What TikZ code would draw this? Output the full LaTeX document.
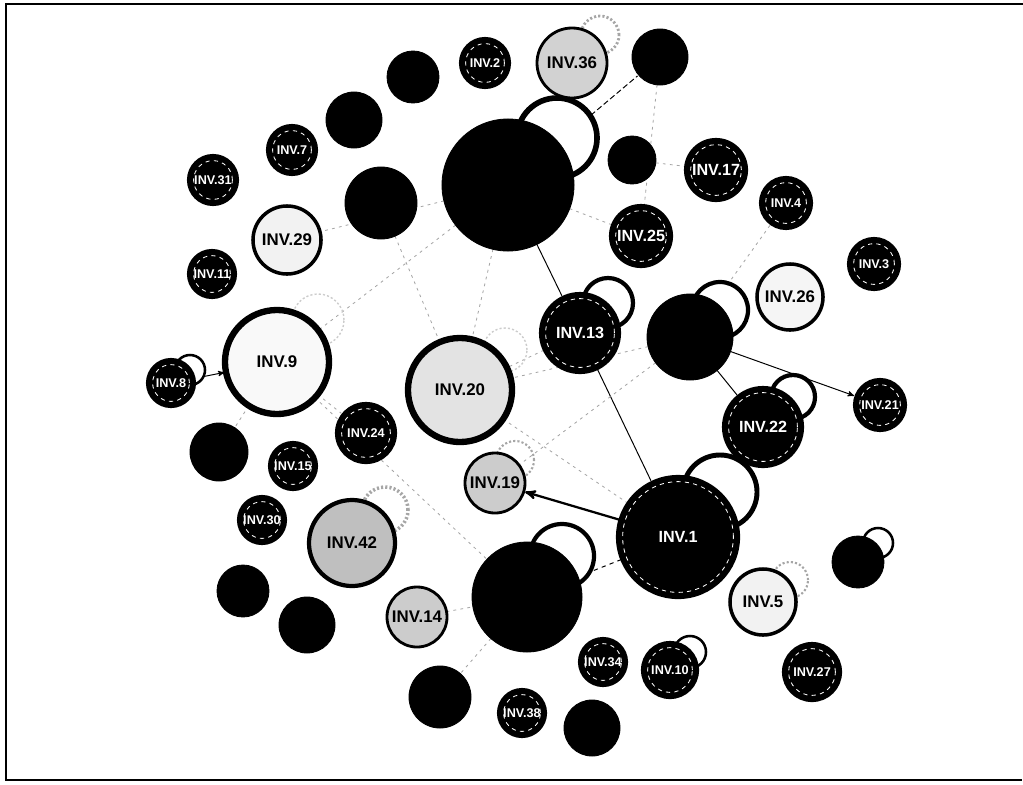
\documentclass[tikz,border=0pt]{standalone}
\usepackage{fontspec}
\setsansfont{Liberation Sans}
\usetikzlibrary{arrows,calc}
\pgfdeclarelayer{background}
\pgfsetlayers{background,main}

\begin{document}
\begin{tikzpicture}[x=0.025cm,y=-0.025cm,>=stealth',shorten >=1pt,
                    rad/.style={minimum size=#1*0.05cm},
                    semithick]
  \tikzstyle{every node}=[circle,inner sep=0pt,outer sep=0pt]
  \tikzstyle{blob}=[fill=black,draw=black]
  \tikzstyle{inv}=[fill=black,draw=black,line width=1.5pt,text=white,
                   font=\sffamily\bfseries\fontsize{9}{9}\selectfont,
                   path picture={\draw[white,dashed,line width=0.6pt]
                     let \p1=(path picture bounding box.east),
                         \p2=(path picture bounding box.center)
                     in (\p2) circle ({\x1-\x2-4pt});}]
  \tikzstyle{biginv}=[inv,font=\sffamily\bfseries\fontsize{11.5}{11.5}\selectfont]
  \tikzstyle{pale}=[draw=black,line width=2.5pt,text=black,
                    font=\sffamily\bfseries\fontsize{12}{12}\selectfont]
  \tikzstyle{loopring}=[draw=black,line width=3pt,fill=white]
  \tikzstyle{faintring}=[draw=gray!70,dash pattern=on 1.5pt off 1.5pt,line width=1pt]
  \tikzstyle{link}=[gray!70,dash pattern=on 2pt off 3pt,line width=0.6pt]
  \tikzstyle{tie}=[black,line width=0.7pt]

  \useasboundingbox (0,0) rectangle (1023,784);
  \draw[line width=1pt] (1023,4) -- (6,4) -- (6,780) -- (1023,780);

  % self loops
  \node[loopring,rad=40,line width=4pt] (lA)  at (557,138) {};
  \node[faintring,rad=19,line width=2pt] (l36) at (600,35) {};
  \node[loopring,rad=25] (l13) at (608,303) {};
  \node[loopring,rad=28] (l6)  at (720,310) {};
  \node[loopring,rad=22] (l22) at (793,397) {};
  \node[loopring,rad=37,line width=3.5pt] (l1)  at (720,492) {};
  \node[loopring,rad=32] (lB)  at (562,556) {};
  \node[loopring,rad=15,line width=1.8pt] (l7b) at (878,543) {};
  \node[faintring,rad=18,line width=1.5pt] (l5) at (790,580) {};
  \node[loopring,rad=16,line width=1.8pt] (l10) at (690,652) {};
  \node[faintring,rad=23,line width=2.5pt] (l42) at (385,510) {};
  \node[faintring,rad=19,line width=1.5pt] (l19) at (515,460) {};
  \node[faintring,rad=22,draw=gray!40] (l20) at (505,350) {};
  \node[faintring,rad=26,draw=gray!40] (l9)  at (318,320) {};
  \node[loopring,rad=15,line width=1.8pt] (l8) at (190,370) {};

  % hubs and plain discs
  \node[blob,rad=66] (hubA) at (508,185) {};
  \node[blob,rad=55] (hubB) at (527,597) {};
  \node[blob,rad=28] (b1)  at (354,120) {};
  \node[blob,rad=26] (b2)  at (413,77)  {};
  \node[blob,rad=36] (b3)  at (381,203) {};
  \node[blob,rad=28] (b4)  at (660,57)  {};
  \node[blob,rad=24] (b5)  at (632,160) {};
  \node[blob,rad=43] (b6)  at (690,337) {};
  \node[blob,rad=26] (b7)  at (858,562) {};
  \node[blob,rad=29] (b8)  at (219,452) {};
  \node[blob,rad=26] (b9)  at (243,591) {};
  \node[blob,rad=28] (b10) at (307,625) {};
  \node[blob,rad=31] (b11) at (440,697) {};
  \node[blob,rad=28] (b12) at (592,728) {};

  % dark labelled
  \node[inv,rad=25] (n2)  at (485,63)  {INV.2};
  \node[inv,rad=25] (n7)  at (292,150) {INV.7};
  \node[inv,rad=25] (n31) at (213,180) {INV.31};
  \node[inv,rad=24] (n11) at (212,274) {INV.11};
  \node[inv,rad=24] (n8)  at (171,383) {INV.8};
  \node[inv,rad=30] (n24) at (366,433) {INV.24};
  \node[inv,rad=24] (n15) at (293,466) {INV.15};
  \node[inv,rad=24] (n30) at (262,520) {INV.30};
  \node[biginv,rad=31] (n17) at (716,170) {INV.17};
  \node[inv,rad=26] (n4)  at (786,203) {INV.4};
  \node[biginv,rad=31] (n25) at (641,236) {INV.25};
  \node[inv,rad=26] (n3)  at (874,264) {INV.3};
  \node[inv,rad=26] (n21) at (880,405) {INV.21};
  \node[biginv,rad=40] (n13) at (580,333) {INV.13};
  \node[biginv,rad=40] (n22) at (763,427) {INV.22};
  \node[biginv,rad=61] (n1)  at (678,537) {INV.1};
  \node[inv,rad=24] (n34) at (603,662) {INV.34};
  \node[inv,rad=28] (n10) at (670,670) {INV.10};
  \node[inv,rad=29] (n27) at (812,672) {INV.27};
  \node[inv,rad=24] (n38) at (522,713) {INV.38};

  % pale labelled
  \node[pale,rad=35,fill=gray!35,line width=2pt] (n36) at (572,63)  {INV.36};
  \node[pale,rad=34,fill=gray!10] (n29) at (287,240) {INV.29};
  \node[pale,rad=52,fill=gray!5,line width=4.5pt] (n9)  at (277,362) {INV.9};
  \node[pale,rad=52,fill=gray!22,line width=4.5pt] (n20) at (460,390) {INV.20};
  \node[pale,rad=33,fill=gray!8] (n26) at (790,297) {INV.26};
  \node[pale,rad=30,fill=gray!40,line width=2pt] (n19) at (495,483) {INV.19};
  \node[pale,rad=43,fill=gray!50,line width=3pt] (n42) at (352,543) {INV.42};
  \node[pale,rad=30,fill=gray!40,line width=2pt] (n14) at (417,617) {INV.14};
  \node[pale,rad=33,fill=gray!10] (n5)  at (763,602) {INV.5};

  \begin{pgfonlayer}{background}
  \draw
        (hubA) edge [tie]  (n13)
        (n13)  edge [tie]  (n1)
        (b6)   edge [tie]  (n22)
        (b6)   edge [tie,->] (n21)
        (n1)   edge [tie,->,line width=1.6pt] (n19)
        (n8)   edge [tie,->] (n9)
        (n1)   edge [tie,dashed] (hubB)
        (hubA) edge [tie,dash pattern=on 4pt off 2pt] (b4)
        (hubA) edge [link] (n9)
        (hubA) edge [link] (n20)
        (hubA) edge [link] (n25)
        (hubA) edge [link] (n29)
        (b3)   edge [link] (n20)
        (b6)   edge [link] (n4)
        (b6)   edge [link] (n19)
        (b6)   edge [link] (n20)
        (b5)   edge [link] (n17)
        (b4)   edge [link] (n25)
        (n9)   edge [link] (hubB)
        (n9)   edge [link] (b8)
        (n9)   edge [link] (n24)
        (n14)  edge [link] (hubB)
        (hubB) edge [link] (b11)
        (n13)  edge [link] (n20)
        (n20)  edge [link] (n1);
  \end{pgfonlayer}
\end{tikzpicture}
\end{document}
